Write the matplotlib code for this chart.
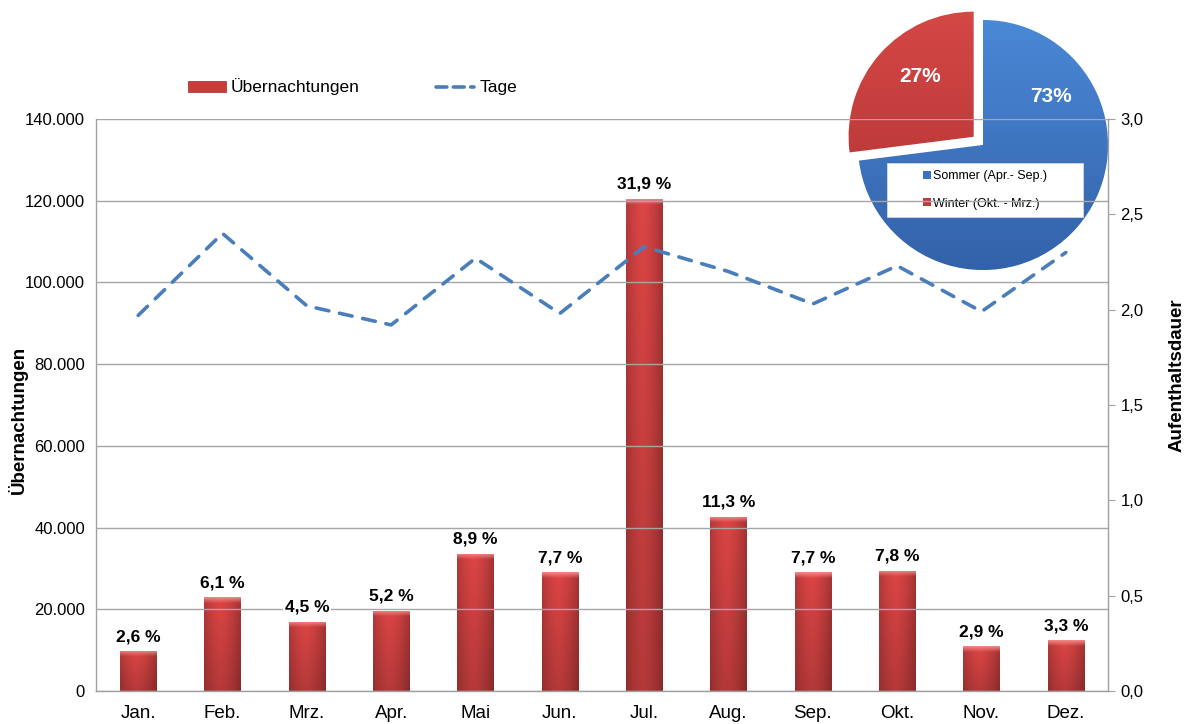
import numpy as np
import matplotlib
matplotlib.use("Agg")
import matplotlib.pyplot as plt
from matplotlib.patches import Patch, Rectangle
from matplotlib.lines import Line2D
from matplotlib.ticker import FuncFormatter, FixedLocator

plt.rcParams['font.family'] = ['Liberation Sans', 'DejaVu Sans']

# ---------------- data ----------------
months = ["Jan.", "Feb.", "Mrz.", "Apr.", "Mai", "Jun.", "Jul.", "Aug.", "Sep.", "Okt.", "Nov.", "Dez."]
naechte = [9800, 23000, 17000, 19600, 33600, 29100, 120500, 42700, 29100, 29400, 10900, 12400]
anteil = ["2,6 %", "6,1 %", "4,5 %", "5,2 %", "8,9 %", "7,7 %", "31,9 %", "11,3 %", "7,7 %", "7,8 %", "2,9 %", "3,3 %"]
tage = [1.97, 2.40, 2.02, 1.92, 2.27, 1.98, 2.33, 2.20, 2.03, 2.23, 1.99, 2.30]
left_ticks = [0, 20000, 40000, 60000, 80000, 100000, 120000, 140000]
right_ticks = [0.0, 0.5, 1.0, 1.5, 2.0, 2.5, 3.0]
pie_labels = ["Sommer (Apr.- Sep.)", "Winter (Okt. - Mrz.)"]
pie_values = [73, 27]
pie_texts = ["73%", "27%"]

W, H = 1185, 724
fig = plt.figure(figsize=(W / 100, H / 100), dpi=100)
fig.patch.set_facecolor("white")

def fx(px):
    return px / W

def fy(py):
    return 1 - py / H

# ---------------- pie (drawn underneath) ----------------
cx, cy, r = 983, 145, 125
span = 145
pax = fig.add_axes([fx(cx - span), fy(cy + span), 2 * span / W, 2 * span / H])
pax.set_zorder(-1)
pax.set_aspect("equal")
pax.axis("off")
blue = "#3B73C0"
red = "#C0393B"
wedges, _ = pax.pie(pie_values, colors=[blue, red], startangle=90, counterclock=False,
                    explode=[0, 0.1], radius=1.0, wedgeprops=dict(linewidth=0.6, edgecolor="white"))
yy = np.linspace(1, 0, 200)[:, None] * np.ones((1, 200))
grad_blue = np.zeros((200, 200, 3))
c_top = np.array([0x4E, 0x8E, 0xDC]) / 255
c_bot = np.array([0x2F, 0x5C, 0xA3]) / 255
grad_red = np.zeros((200, 200, 3))
r_top = np.array([0xD8, 0x4A, 0x48]) / 255
r_bot = np.array([0xA8, 0x2D, 0x2E]) / 255
for k in range(3):
    grad_blue[..., k] = c_bot[k] + (c_top[k] - c_bot[k]) * yy
    grad_red[..., k] = r_bot[k] + (r_top[k] - r_bot[k]) * yy
lim = span / r
for w, g in zip(wedges, [grad_blue, grad_red]):
    im = pax.imshow(g, extent=[-1.3, 1.3, -1.3, 1.3], zorder=w.get_zorder() + 0.1, aspect="auto")
    im.set_clip_path(w)
pax.set_xlim(-lim, lim)
pax.set_ylim(-lim, lim)
pax.text(0.54, 0.39, pie_texts[0], color="white", fontsize=15, fontweight="bold",
         ha="center", va="center", zorder=5)
pax.text(-0.50, 0.55, pie_texts[1], color="white", fontsize=15, fontweight="bold",
         ha="center", va="center", zorder=5)
bx0, by0, bx1, by1 = 887, 163, 1083, 217
pax.add_patch(Rectangle((fx(bx0), fy(by1)), (bx1 - bx0) / W, (by1 - by0) / H,
                        transform=fig.transFigure, facecolor="white", edgecolor="#E0E0E0",
                        linewidth=0.5, clip_on=False, zorder=6))
ph = [Patch(facecolor=blue, edgecolor="none"), Patch(facecolor=red, edgecolor="none")]
leg2 = pax.legend(ph, pie_labels, loc="center", bbox_to_anchor=(fx((bx0 + bx1) / 2), fy((by0 + by1) / 2)),
                  bbox_transform=fig.transFigure, frameon=False, fontsize=9,
                  handlelength=0.6, handleheight=0.6, handletextpad=0.15, labelspacing=1.2,
                  borderpad=0.2)
leg2.set_zorder(7)

# ---------------- main chart ----------------
L, R, T, B = 96, 1108, 119, 691
ax = fig.add_axes([fx(L), fy(B), (R - L) / W, (B - T) / H])
ax.patch.set_visible(False)
x = np.arange(len(months))
bars = ax.bar(x, naechte, width=0.43, color="#CC3A3A", zorder=2, linewidth=0)

nx, ny = 60, 400
for b, v in zip(bars, naechte):
    x0 = b.get_x()
    x1 = x0 + b.get_width()
    hpx = v / 140000 * (B - T)
    xs = np.linspace(0, 1, nx)
    ys = np.linspace(1, 0, ny)  # top -> bottom (fraction of height)
    horiz = 1 - 0.30 * np.abs(xs - 0.45) ** 1.6 * 2.2
    vert = 0.82 + 0.18 * ys
    base = np.array([0xDC, 0x45, 0x45]) / 255
    shade = vert[:, None] * horiz[None, :]
    img = np.ones((ny, nx, 3))
    for k in range(3):
        img[..., k] = base[k] * shade
    # top bevel highlight fading downward
    dpx = (1 - ys) * hpx
    hl = np.clip(1 - dpx / 6.0, 0, 1)[:, None] * np.ones((1, nx))
    light = np.array([0xF4, 0x8A, 0x88]) / 255
    for k in range(3):
        img[..., k] = img[..., k] * (1 - hl) + light[k] * hl
    im = ax.imshow(img, extent=[x0, x1, 0, v], aspect="auto", zorder=2.1, interpolation="bilinear")
    im.set_clip_path(b)

for xi, v, lab in zip(x, naechte, anteil):
    ax.annotate(lab, (xi, v), xytext=(0, 5), textcoords="offset points", ha="center", va="bottom",
                fontsize=12.5, fontweight="bold", color="black", zorder=4,
                bbox=dict(facecolor="white", edgecolor="none", pad=1.0))

ax.set_xlim(-0.5, len(months) - 0.5)
ax.set_ylim(0, 140000)
ax.yaxis.set_major_locator(FixedLocator(left_ticks))
ax.yaxis.set_major_formatter(FuncFormatter(lambda v, p: f"{int(v):,}".replace(",", ".")))
ax.set_xticks(x)
ax.set_xticklabels(months, fontsize=13.5)
ax.tick_params(axis="x", length=0, pad=10)
ax.tick_params(axis="y", length=0, pad=8, labelsize=12)
ax.grid(axis="y", color="#A6A6A6", linewidth=1.0)
ax.set_axisbelow(False)
for line in ax.get_ygridlines():
    line.set_zorder(1.5)
for s in ["top", "right"]:
    ax.spines[s].set_visible(False)
for s in ["left", "bottom"]:
    ax.spines[s].set_color("#A0A0A0")
    ax.spines[s].set_linewidth(1.0)

ax2 = ax.twinx()
ax2.plot(x, tage, color="#4A7EBB", linewidth=2.6, linestyle=(0, (3.6, 3.0)),
         dash_capstyle="round", zorder=3)
ax2.set_ylim(0, 3.0)
ax2.yaxis.set_major_locator(FixedLocator(right_ticks))
ax2.yaxis.set_major_formatter(FuncFormatter(lambda v, p: f"{v:.1f}".replace(".", ",")))
ax2.tick_params(axis="y", length=5, color="#A0A0A0", pad=4, labelsize=12)
for s in ["top", "left", "bottom"]:
    ax2.spines[s].set_visible(False)
ax2.spines["right"].set_color("#A0A0A0")
ax2.spines["right"].set_linewidth(1.0)

fig.text(fx(18), fy(420), "Übernachtungen", rotation=90, ha="center", va="center",
         fontsize=13.5, fontweight="bold")
fig.text(fx(1177), fy(375), "Aufenthaltsdauer", rotation=90, ha="center", va="center",
         fontsize=13.5, fontweight="bold")

h1 = Patch(facecolor="#CC3A3A", edgecolor="#A02828", linewidth=0.5)
h2 = Line2D([0], [0], color="#4A7EBB", linewidth=2.6, linestyle=(0, (3.0, 1.8)), dash_capstyle="round")
fig.legend([h1, h2], ["Übernachtungen", "Tage"], loc="center left",
           bbox_to_anchor=(fx(172), fy(87)), ncol=2, frameon=False, fontsize=12.5,
           handlelength=2.2, handleheight=0.6, handletextpad=0.3, columnspacing=4.4)

fig.savefig("out.png", dpi=100, facecolor="white")
